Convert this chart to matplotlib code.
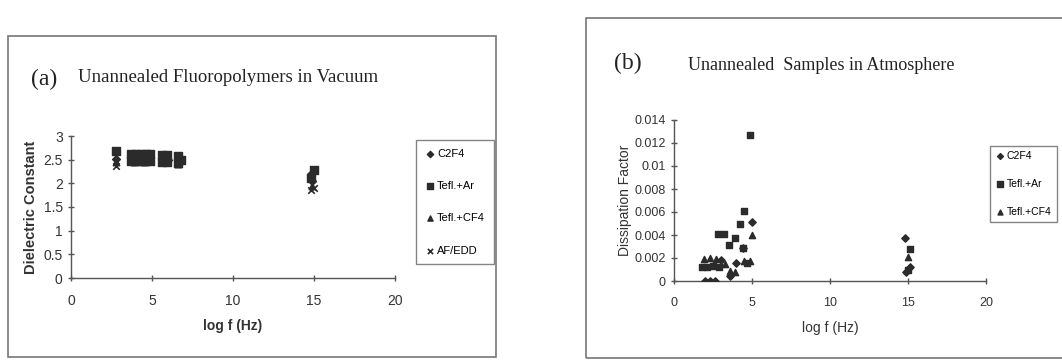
import matplotlib.pyplot as plt
from matplotlib.patches import Rectangle

# ---- (a) Unannealed fluoropolymers in vacuum: dielectric constant ----
a_c2f4_x = [2.8, 3.8, 4.3, 4.8, 5.6, 6.0, 6.6, 14.8, 14.9]
a_c2f4_y = [2.52, 2.5, 2.5, 2.5, 2.5, 2.5, 2.45, 2.2, 2.05]
a_ar_x = [2.8, 3.7, 3.7, 4.0, 4.0, 4.3, 4.3, 4.6, 4.6, 4.9, 4.9,
          5.6, 5.6, 5.9, 5.9, 6.6, 6.6, 6.8, 14.8, 15.0]
a_ar_y = [2.68, 2.48, 2.62, 2.48, 2.62, 2.48, 2.62, 2.48, 2.62, 2.48, 2.62,
          2.46, 2.6, 2.46, 2.6, 2.42, 2.58, 2.5, 2.12, 2.28]
a_cf4_x = [2.8, 3.9, 4.5, 5.6, 6.6, 14.9]
a_cf4_y = [2.45, 2.45, 2.45, 2.45, 2.4, 1.95]
a_af_x = [2.8, 14.8, 15.0]
a_af_y = [2.36, 1.85, 1.9]

# ---- (b) Unannealed samples in atmosphere: dissipation factor ----
b_c2f4_x = [2.0, 2.3, 2.6, 3.0, 3.6, 4.0, 4.4, 5.0, 14.8, 14.9, 15.1]
b_c2f4_y = [0.0, 0.0, 0.0, 0.0018, 0.0004, 0.0016, 0.0029, 0.0051, 0.0037, 0.0008, 0.0012]
b_ar_x = [1.8, 2.1, 2.5, 2.9, 2.8, 3.2, 3.5, 3.9, 4.2, 4.5, 4.9, 4.4, 4.7, 15.1, 15.0]
b_ar_y = [0.0012, 0.0012, 0.0013, 0.0012, 0.0041, 0.0041, 0.0031, 0.0037, 0.005,
          0.0061, 0.0127, 0.0029, 0.0016, 0.0028, 0.0010]
b_cf4_x = [1.9, 2.3, 2.7, 3.3, 3.6, 3.9, 4.5, 4.9, 5.0, 15.0]
b_cf4_y = [0.0019, 0.002, 0.0019, 0.0015, 0.0009, 0.0008, 0.0017, 0.0017, 0.004, 0.0021]

W, H = 1062, 360
fig = plt.figure(figsize=(W / 100, H / 100), dpi=100)
fig.patch.set_facecolor('white')

mk = '#2b2b2b'
serif = 'Liberation Serif'
sans = 'Liberation Sans'


def px_axes(x0, y0, x1, y1):
    # pixel box (top-left origin) -> figure axes
    return fig.add_axes([x0 / W, 1 - y1 / H, (x1 - x0) / W, (y1 - y0) / H])


def frame(x0, y0, x1, y1):
    fig.patches.append(Rectangle((x0 / W, 1 - y1 / H), (x1 - x0) / W, (y1 - y0) / H,
                                 transform=fig.transFigure, fill=False,
                                 edgecolor='#777777', linewidth=1.2))


def style_axes(ax, fs):
    for s in ['top', 'right']:
        ax.spines[s].set_visible(False)
    for s in ['left', 'bottom']:
        ax.spines[s].set_color('#555555')
        ax.spines[s].set_linewidth(1.0)
    ax.tick_params(direction='inout', length=5, width=1, color='#555555',
                   labelsize=fs, labelcolor='#333333')
    for lab in ax.get_xticklabels() + ax.get_yticklabels():
        lab.set_family(sans)


# panel frames
frame(8, 36, 496, 357)
frame(586, 18, 1070, 358)

# ---------- panel (a) ----------
ax1 = px_axes(71, 136, 395, 278)
ax1.scatter(a_c2f4_x, a_c2f4_y, marker='D', s=16, color=mk, label='C2F4', zorder=3)
ax1.scatter(a_ar_x, a_ar_y, marker='s', s=34, color=mk, label='Tefl.+Ar', zorder=3)
ax1.scatter(a_cf4_x, a_cf4_y, marker='^', s=22, color=mk, label='Tefl.+CF4', zorder=3)
ax1.scatter(a_af_x, a_af_y, marker='x', s=22, color=mk, linewidths=1.2, label='AF/EDD', zorder=3)
ax1.set_xlim(0, 20)
ax1.set_ylim(0, 3)
ax1.set_xticks([0, 5, 10, 15, 20])
ax1.set_yticks([0, 0.5, 1, 1.5, 2, 2.5, 3])
ax1.set_yticklabels(['0', '0.5', '1', '1.5', '2', '2.5', '3'])
style_axes(ax1, 10)
ax1.tick_params(axis='x', pad=9)
ax1.set_xlabel('log f (Hz)', fontsize=10, family=sans, fontweight='bold',
               color='#333333', labelpad=8)
ax1.set_ylabel('Dielectric Constant', fontsize=10.5, family=sans, fontweight='bold',
               color='#333333', labelpad=4)
leg1 = ax1.legend(loc='upper left', bbox_to_anchor=(416 / W, 1 - 140 / H), bbox_transform=fig.transFigure,
                  borderaxespad=0, frameon=True, fancybox=False, edgecolor='#666666',
                  prop={'family': sans, 'size': 8}, handletextpad=0.1,
                  handlelength=1.0, labelspacing=2.0, borderpad=0.8, markerscale=0.8)
leg1.get_frame().set_linewidth(1.0)

fig.text(44 / W, 1 - 79 / H, '(a)', family=serif, fontsize=17, color='#222222',
         ha='center', va='center')
fig.text(78 / W, 1 - 78 / H, 'Unannealed Fluoropolymers in Vacuum', family=serif,
         fontsize=13.5, color='#222222', ha='left', va='center')

# ---------- panel (b) ----------
ax2 = px_axes(674, 120, 986, 281)
ax2.scatter(b_c2f4_x, b_c2f4_y, marker='D', s=14, color=mk, label='C2F4', zorder=3)
ax2.scatter(b_ar_x, b_ar_y, marker='s', s=22, color=mk, label='Tefl.+Ar', zorder=3)
ax2.scatter(b_cf4_x, b_cf4_y, marker='^', s=20, color=mk, label='Tefl.+CF4', zorder=3)
ax2.set_xlim(0, 20)
ax2.set_ylim(0, 0.014)
ax2.set_xticks([0, 5, 10, 15, 20])
ax2.set_yticks([0, 0.002, 0.004, 0.006, 0.008, 0.01, 0.012, 0.014])
ax2.set_yticklabels(['0', '0.002', '0.004', '0.006', '0.008', '0.01', '0.012', '0.014'])
style_axes(ax2, 9)
ax2.tick_params(axis='x', pad=9)
ax2.set_xlabel('log f (Hz)', fontsize=10, family=sans, color='#333333', labelpad=9)
ax2.set_ylabel('Dissipation Factor', fontsize=10, family=sans, color='#333333', labelpad=2)
leg2 = ax2.legend(loc='upper left', bbox_to_anchor=(990 / W, 1 - 146 / H), bbox_transform=fig.transFigure,
                  borderaxespad=0, frameon=True, fancybox=False, edgecolor='#666666',
                  prop={'family': sans, 'size': 7.5}, handletextpad=0.1,
                  handlelength=1.0, labelspacing=1.7, borderpad=0.5, markerscale=0.8)
leg2.get_frame().set_linewidth(1.0)

fig.text(628 / W, 1 - 63 / H, '(b)', family=serif, fontsize=17, color='#222222',
         ha='center', va='center')
fig.text(688 / W, 1 - 66 / H, 'Unannealed  Samples in Atmosphere', family=serif,
         fontsize=13, color='#222222', ha='left', va='center')

fig.savefig('out.png', dpi=100)
